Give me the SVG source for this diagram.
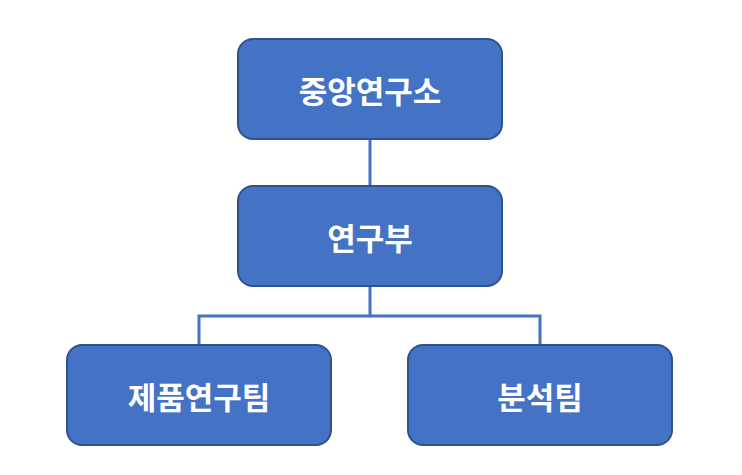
<svg xmlns="http://www.w3.org/2000/svg" width="742" height="475" viewBox="0 0 742 475">
<style>
.box{fill:#4472C4;stroke:#2F528F;stroke-width:2}
.t{fill:#fff;font-family:"Noto Sans CJK KR",sans-serif;font-weight:bold;font-size:31px;text-anchor:middle;dominant-baseline:central}
.c{stroke:#4472C4;stroke-width:3;fill:none}
</style>
<rect width="742" height="475" fill="#fff"/>
<g id="connectors">
<line class="c" x1="370" y1="139" x2="370" y2="186"/>
<polyline class="c" points="370,286 370,316 199,316 199,345"/>
<polyline class="c" points="370,316 540,316 540,345"/>
</g>
<g id="n1"><rect class="box" x="238" y="39" width="264" height="100" rx="15"/><text class="t" x="370" y="89">중앙연구소</text></g>
<g id="n2"><rect class="box" x="238" y="186" width="264" height="100" rx="15"/><text class="t" x="370" y="236">연구부</text></g>
<g id="n3"><rect class="box" x="67" y="345" width="264" height="100" rx="15"/><text class="t" x="199" y="395">제품연구팀</text></g>
<g id="n4"><rect class="box" x="408" y="345" width="264" height="100" rx="15"/><text class="t" x="540" y="395">분석팀</text></g>
</svg>
